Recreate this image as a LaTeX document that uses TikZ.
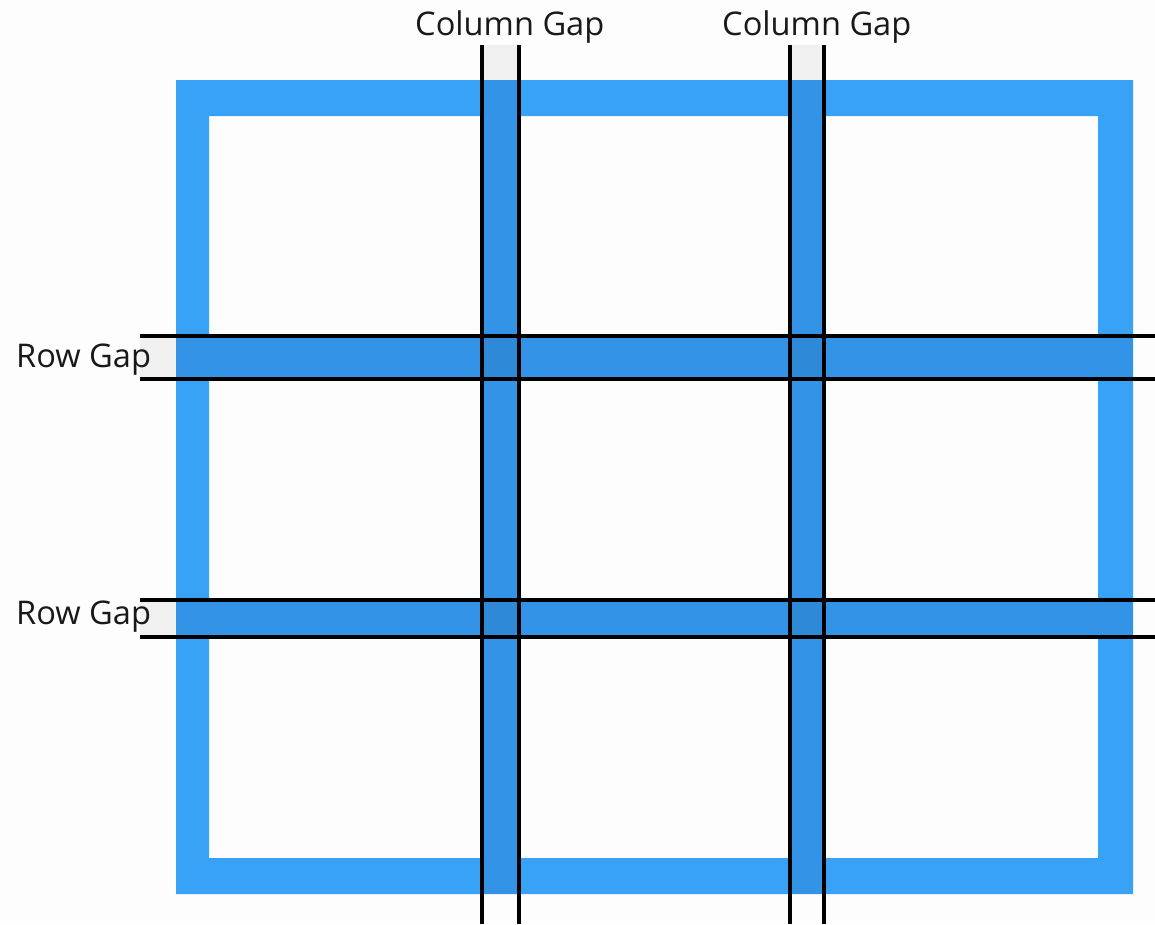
\documentclass[tikz,border=0pt]{standalone}
\usepackage{fontspec}
\setsansfont{Open Sans}
\definecolor{gridpaper}{HTML}{FDFDFD}
\definecolor{gridframe}{HTML}{38A2F7}
\definecolor{gridgap}{HTML}{3393E6}
\definecolor{gridcross}{HTML}{2E89D8}
\definecolor{gridstub}{HTML}{F0F0F0}

\begin{document}
\begin{tikzpicture}[x=1pt, y=-1pt,
                    every node/.style={font=\sffamily\fontsize{32.6}{33}\selectfont,
                                       inner sep=0pt, text=black!90},
                    gapline/.style={black, line width=3.2pt}]

  \useasboundingbox[fill=gridpaper] (0,0) rectangle (1155,924);

  %% grid container: outer frame
  \fill[gridframe, even odd rule]
    (176,80) rectangle (1133,894) (209,116) rectangle (1098,858);

  %% column gaps
  \foreach \l/\r/\n in {482/519/1, 790/824/2} {
    \fill[gridstub] (\l,45) rectangle (\r,80);
    \fill[gridgap] (\l,80) rectangle (\r,894);
    \coordinate (c\n lt) at (\l,45);  \coordinate (c\n lb) at (\l,924);
    \coordinate (c\n rt) at (\r,45);  \coordinate (c\n rb) at (\r,924);
  }

  %% row gaps
  \foreach \t/\b/\n in {336/379/1, 600/637/2} {
    \fill[gridstub] (140,\t) rectangle (176,\b);
    \fill[gridgap] (176,\t) rectangle (1133,\b);
    \coordinate (r\n tl) at (140,\t);  \coordinate (r\n tr) at (1155,\t);
    \coordinate (r\n bl) at (140,\b);  \coordinate (r\n br) at (1155,\b);
  }

  %% where the gaps cross
  \foreach \l/\r in {482/519, 790/824}
    \foreach \t/\b in {336/379, 600/637}
      \fill[gridcross] (\l,\t) rectangle (\r,\b);

  %% gap lines
  \foreach \n in {1,2} {
    \draw[gapline] (c\n lt) -- (c\n lb);
    \draw[gapline] (c\n rt) -- (c\n rb);
    \draw[gapline] (r\n tl) -- (r\n tr);
    \draw[gapline] (r\n bl) -- (r\n br);
  }

  %% labels
  \node[anchor=base west] (colgap1) at (415,35) {Column Gap};
  \node[anchor=base west] (colgap2) at (722,35) {Column Gap};
  \node[anchor=base west] (rowgap1) at (16,367) {Row Gap};
  \node[anchor=base west] (rowgap2) at (16,624) {Row Gap};

\end{tikzpicture}
\end{document}
